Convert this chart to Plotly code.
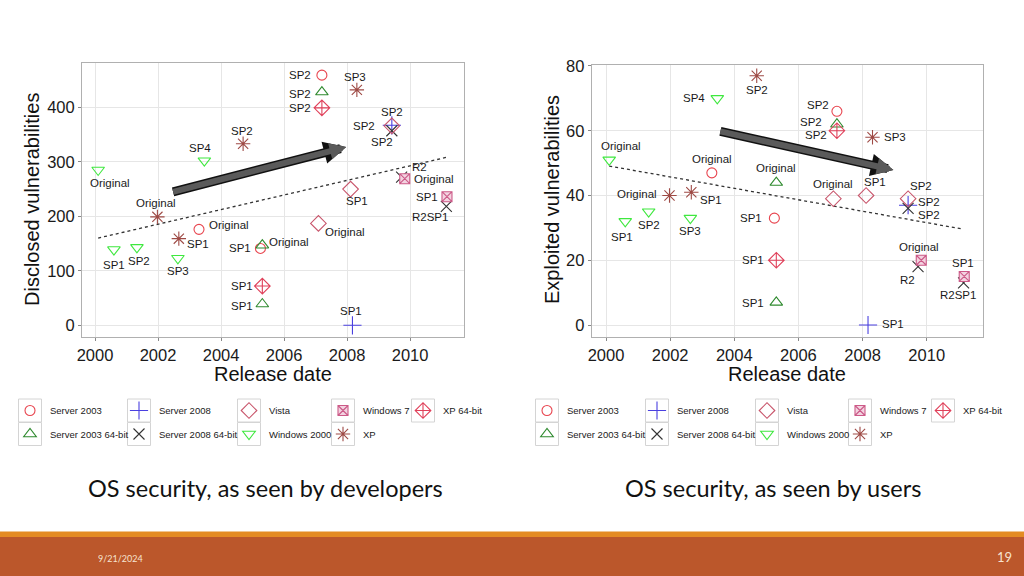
import plotly.graph_objects as go

# ---------------- data ----------------
SERIES = ["Server 2003", "Server 2003 64-bit", "Server 2008", "Server 2008 64-bit",
          "Vista", "Windows 2000", "Windows 7", "XP", "XP 64-bit"]

S2003_DATES = [2003.3, 2005.25, 2007.2]
S2003_LABELS = ["Original", "SP1", "SP2"]
S2003_DISCLOSED = [176, 141, 459]
S2003_EXPLOITED = [47, 33, 66]

S2003_64_DATES = [2005.31, 2005.31, 2007.2]
S2003_64_LABELS = ["Original", "SP1", "SP2"]
S2003_64_DISCLOSED = [147, 39, 428]
S2003_64_EXPLOITED = [44, 7, 62]

S2008_DATES = [2008.17, 2009.42]
S2008_LABELS = ["SP1", "SP2"]
S2008_DISCLOSED = [0, 367]
S2008_EXPLOITED = [0, 37]

S2008_64_DATES = [2009.42, 2009.73, 2011.15]
S2008_64_LABELS = ["SP2", "R2", "R2SP1"]
S2008_64_DISCLOSED = [357, 272, 218]
S2008_64_EXPLOITED = [36, 18, 13]

VISTA_DATES = [2007.09, 2008.11, 2009.42]
VISTA_LABELS = ["Original", "SP1", "SP2"]
VISTA_DISCLOSED = [187, 250, 366]
VISTA_EXPLOITED = [39, 40, 39]

W2000_DATES = [2000.1, 2000.6, 2001.33, 2002.63, 2003.47]
W2000_LABELS = ["Original", "SP1", "SP2", "SP3", "SP4"]
W2000_DISCLOSED = [285, 139, 143, 123, 302]
W2000_EXPLOITED = [51, 32, 35, 33, 70]

W7_DATES = [2009.83, 2011.17]
W7_LABELS = ["Original", "SP1"]
W7_DISCLOSED = [269, 236]
W7_EXPLOITED = [20, 15]

XP_DATES = [2001.98, 2002.66, 2004.7, 2008.31]
XP_LABELS = ["Original", "SP1", "SP2", "SP3"]
XP_DISCLOSED = [199, 159, 333, 432]
XP_EXPLOITED = [40, 41, 77, 58]

XP64_DATES = [2005.31, 2007.2]
XP64_LABELS = ["SP1", "SP2"]
XP64_DISCLOSED = [72, 399]
XP64_EXPLOITED = [20, 60]

TREND_X = [2000.1, 2011.14]
TREND_DISCLOSED = [160, 308]
TREND_EXPLOITED = [49.1, 29.6]

ARROW_X = [2002.43, 2007.97]
ARROW_DISCLOSED = [244, 327]
ARROW_X_R = [2003.52, 2008.96]
ARROW_EXPLOITED = [59.9, 47.9]

YEAR_TICKS = [2000, 2002, 2004, 2006, 2008, 2010]
DISCLOSED_TICKS = [0, 100, 200, 300, 400]
EXPLOITED_TICKS = [0, 20, 40, 60, 80]

DATES = [S2003_DATES, S2003_64_DATES, S2008_DATES, S2008_64_DATES, VISTA_DATES,
         W2000_DATES, W7_DATES, XP_DATES, XP64_DATES]
LABELS = [S2003_LABELS, S2003_64_LABELS, S2008_LABELS, S2008_64_LABELS, VISTA_LABELS,
          W2000_LABELS, W7_LABELS, XP_LABELS, XP64_LABELS]
DISCLOSED = [S2003_DISCLOSED, S2003_64_DISCLOSED, S2008_DISCLOSED, S2008_64_DISCLOSED,
             VISTA_DISCLOSED, W2000_DISCLOSED, W7_DISCLOSED, XP_DISCLOSED, XP64_DISCLOSED]
EXPLOITED = [S2003_EXPLOITED, S2003_64_EXPLOITED, S2008_EXPLOITED, S2008_64_EXPLOITED,
             VISTA_EXPLOITED, W2000_EXPLOITED, W7_EXPLOITED, XP_EXPLOITED, XP64_EXPLOITED]

# ---------------- styles ----------------
SYMBOLS = ["circle-open", "triangle-up-open", "cross-thin-open", "x-thin-open", "diamond-open",
           "triangle-down-open", "square-x", "asterisk-open", "diamond-cross-open"]
COLORS = ["#e8454f", "#2f8a2f", "#4a40e0", "#333333", "#c8556b",
          "#3fe83f", "#cc5a88", "#9e4a45", "#e0405a"]
SIZES = [10, 11, 13, 11, 12, 11, 10, 12, 12]

# label offsets (px, dx right, dy down) per series / point
OFF_LEFT = [
    [(30, -4), (-20, 0), (-22, 0)],
    [(27, -3), (-20, 2), (-22, 2)],
    [(-1, -14), (-28, 1)],
    [(-10, 11), (18, -10), (-16, 11)],
    [(27, 9), (6, 12), (0, -14)],
    [(12, 13), (0, 15), (2, 14), (0, 13), (-4, -13)],
    [(29, 0), (-20, 0)],
    [(-1, -14), (19, 5), (-1, -13), (-2, -13)],
    [(-20, 0), (-22, 0)],
]
OFF_RIGHT = [
    [(0, -14), (-23, 0), (-19, -6)],
    [(0, -15), (-23, 1), (-26, -2)],
    [(25, -1), (21, -3)],
    [(21, 7), (-11, 13), (-6, 12)],
    [(0, -15), (9, -13), (13, -13)],
    [(12, -14), (-3, 16), (0, 13), (0, 13), (-23, 0)],
    [(-2, -13), (-1, -13)],
    [(-33, -1), (20, 8), (0, 14), (22, 0)],
    [(-23, 0), (-21, 4)],
]

W, H = 1024, 576
FONT = "Liberation Sans, Arial, sans-serif"

def px_x(x):
    return x / W

def px_y(y):
    return 1 - y / H

fig = go.Figure()

# legend columns: series indices per column
COLS = [[0, 1], [2, 3], [4, 5], [6, 7], [8]]
LEFT_COL_X = [30, 139, 249, 343, 423]
RIGHT_COL_X = [547, 657, 767, 860, 943]
ROW_Y = [410.5, 434]

legend_of = {}
for side in range(2):
    for ci, col in enumerate(COLS):
        name = "legend" if (side == 0 and ci == 0) else "legend%d" % (side * 5 + ci + 1)
        for si in col:
            legend_of[(side, si)] = name

for side, (xa, ya, vals, offs) in enumerate([("x", "y", DISCLOSED, OFF_LEFT),
                                              ("x2", "y2", EXPLOITED, OFF_RIGHT)]):
    trend_y = TREND_DISCLOSED if side == 0 else TREND_EXPLOITED
    fig.add_trace(go.Scatter(x=TREND_X, y=trend_y, mode="lines", xaxis=xa, yaxis=ya,
                             line=dict(color="#333333", width=1.3, dash="dot"),
                             showlegend=False, hoverinfo="skip"))
    for si, name in enumerate(SERIES):
        fill = "#f3d3e0" if SYMBOLS[si] == "square-x" else COLORS[si]
        fig.add_trace(go.Scatter(
            x=DATES[si], y=vals[si], mode="markers", name=name, xaxis=xa, yaxis=ya,
            legend=legend_of[(side, si)], legendgroup="%d_%d" % (side, si),
            marker=dict(symbol=SYMBOLS[si], size=SIZES[si], color=fill,
                        line=dict(color=COLORS[si], width=1.1)),
        ))
        for pi, lab in enumerate(LABELS[si]):
            dx, dy = offs[si][pi]
            fig.add_annotation(x=DATES[si][pi], y=vals[si][pi], xref=xa, yref=ya,
                               text=lab, showarrow=False, xshift=dx, yshift=-dy,
                               xanchor="center", yanchor="middle",
                               font=dict(family=FONT, size=11.5, color="#1a1a1a"))

# arrows (outline + fill)
for xa, ya, ax_, ay_ in [("x", "y", ARROW_X, ARROW_DISCLOSED), ("x2", "y2", ARROW_X_R, ARROW_EXPLOITED)]:
    for color, width, size in [("#111111", 9, 0.5), ("#5a5a5a", 6, 0.55)]:
        fig.add_annotation(x=ax_[1], y=ay_[1], ax=ax_[0], ay=ay_[0], xref=xa, yref=ya,
                           axref=xa, ayref=ya, showarrow=True, arrowhead=2,
                           arrowsize=size, arrowwidth=width, arrowcolor=color, text="")

axis_common = dict(showgrid=True, gridcolor="#e6e6e6", gridwidth=1, zeroline=False,
                   showline=True, mirror=True, linecolor="#b0b0b0", linewidth=1,
                   ticks="outside", ticklen=3, tickcolor="#888888",
                   tickfont=dict(family=FONT, size=16.5, color="#1a1a1a"))

fig.update_layout(
    xaxis=dict(domain=[px_x(82), px_x(464)], range=[1999.587, 2011.71], tickvals=YEAR_TICKS,
               anchor="y", **axis_common),
    yaxis=dict(domain=[px_y(337), px_y(63)], range=[-21.5, 481.3], tickvals=DISCLOSED_TICKS,
               anchor="x", **axis_common),
    xaxis2=dict(domain=[px_x(591.7), px_x(982.7)], range=[1999.554, 2011.746], tickvals=YEAR_TICKS,
                anchor="y2", **axis_common),
    yaxis2=dict(domain=[px_y(336.7), px_y(65)], range=[-3.61, 80.3], tickvals=EXPLOITED_TICKS,
                anchor="x2", **axis_common),
)

# legends
LEG_SYM_DX = 20    # symbol center from legend left
LEG_TOP_DY = 14.5  # first item center from legend top
shapes = []
for side, colx in enumerate([LEFT_COL_X, RIGHT_COL_X]):
    for ci, cx in enumerate(colx):
        name = "legend" if (side == 0 and ci == 0) else "legend%d" % (side * 5 + ci + 1)
        fig.update_layout({name: dict(
            x=px_x(cx - LEG_SYM_DX), y=px_y(ROW_Y[0] - LEG_TOP_DY), xanchor="left", yanchor="top",
            orientation="v", bgcolor="rgba(0,0,0,0)", borderwidth=0, tracegroupgap=4.5,
            itemsizing="trace", font=dict(family=FONT, size=9.5, color="#1a1a1a"))})
        for ri in range(len(COLS[ci])):
            cy = ROW_Y[ri]
            shapes.append(dict(type="rect", xref="paper", yref="paper",
                               x0=px_x(cx - 11.5), x1=px_x(cx + 11.5),
                               y0=px_y(cy + 11.5), y1=px_y(cy - 11.5),
                               line=dict(color="#d4d4d4", width=1), fillcolor="white",
                               layer="below"))

# footer bands
shapes.append(dict(type="rect", xref="paper", yref="paper", x0=0, x1=1, y0=px_y(537), y1=px_y(531.5),
                   line=dict(width=0), fillcolor="#e48b23", layer="above"))
shapes.append(dict(type="rect", xref="paper", yref="paper", x0=0, x1=1, y0=0, y1=px_y(537),
                   line=dict(width=0), fillcolor="#bb572b", layer="above"))

def paper_text(x, y, text, font, angle=0):
    fig.add_annotation(x=px_x(x), y=px_y(y), xref="paper", yref="paper", text=text,
                       showarrow=False, xanchor="center", yanchor="middle",
                       textangle=angle, font=font)

# axis titles
TITLE_FONT = dict(family=FONT, size=20, color="#111111")
paper_text(273, 374, "Release date", TITLE_FONT)
paper_text(787, 374, "Release date", TITLE_FONT)
paper_text(32, 200, "Disclosed vulnerabilities", TITLE_FONT, -90)
paper_text(552, 200, "Exploited vulnerabilities", TITLE_FONT, -90)

# captions and footer
CAP_FONT = dict(family="Lato, Open Sans, sans-serif", size=23.5, color="#111111")
paper_text(265, 488, "OS security, as seen by developers", CAP_FONT)
paper_text(773, 488, "OS security, as seen by users", CAP_FONT)
paper_text(120, 558, "9/21/2024", dict(family="Lato, sans-serif", size=9, color="#f6e3d0"))
paper_text(1004, 557, "19", dict(family="Lato, sans-serif", size=13, color="#f6e3d0"))

fig.update_layout(width=W, height=H, margin=dict(l=0, r=0, t=0, b=0, autoexpand=False),
                  paper_bgcolor="white", plot_bgcolor="white", shapes=shapes, showlegend=True)

fig.write_html("out.html", config={"displayModeBar": False},
               post_script="document.body.style.margin='0';document.body.style.overflow='hidden';")
